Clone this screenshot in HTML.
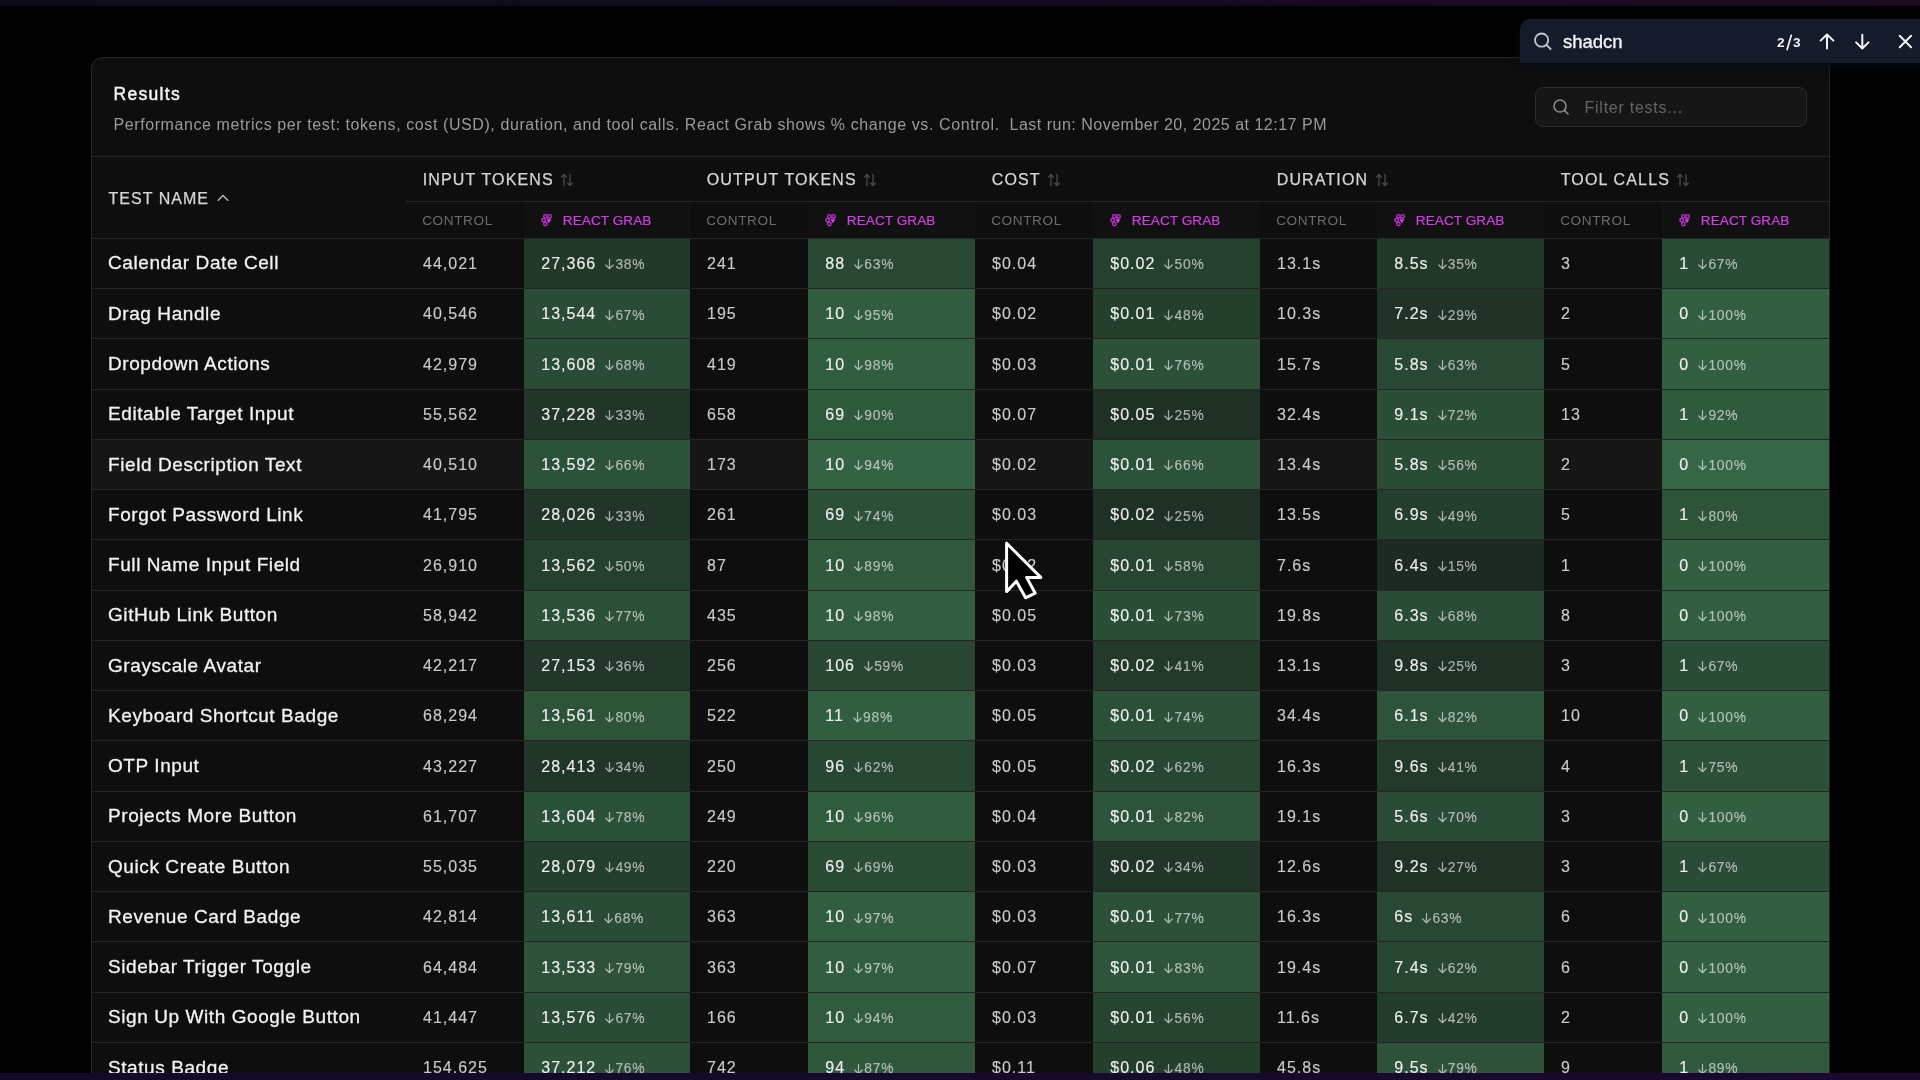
<!DOCTYPE html>
<html><head><meta charset="utf-8"><title>Results</title>
<style>
*{box-sizing:border-box;margin:0;padding:0}
html,body{width:1920px;height:1080px;overflow:hidden;background:#000;font-family:"Liberation Sans",sans-serif}
.page{position:absolute;left:0;top:0;width:1920px;height:1080px;background:#000;will-change:transform;overflow:hidden}
.topstrip{position:absolute;left:0;top:0;width:1920px;height:6px;background:linear-gradient(90deg,#0d0c1e 0%,#110b20 45%,#170a22 75%,#1b0a22 100%)}
.botstrip{position:absolute;left:0;top:1072.5px;width:1920px;height:8px;background:linear-gradient(90deg,#140a28 0%,#170a2c 60%,#1b0830 100%)}
.card{position:absolute;left:91px;top:57px;width:1739px;height:1100px;background:#0e0e0e;border:1px solid #262626;border-radius:11px;overflow:hidden;will-change:transform}
.t{position:absolute;white-space:nowrap;line-height:1}
.title{font-size:17.5px;color:#f4f4f4;letter-spacing:1.3px;-webkit-text-stroke:0.45px #f4f4f4}
.desc{font-size:16px;color:#9a9a9a;letter-spacing:0.59px}
.filter{position:absolute;background:#161616;border:1px solid #2b2b2b;border-radius:8px}
.hline{position:absolute;height:1px;background:#262626}
.gh{font-size:16px;color:#d6d6d6;letter-spacing:1.03px;-webkit-text-stroke:0.25px #d6d6d6}
.sh{font-size:13.6px;color:#6b6b6b;letter-spacing:0.6px}
.shrg{font-size:13.6px;color:#d03fe2;letter-spacing:0.05px;-webkit-text-stroke:0.2px #d03fe2}
.cell{position:absolute}
.nm{font-size:19px;color:#f2f2f2;letter-spacing:0.58px;-webkit-text-stroke:0.3px #f2f2f2}
.num{font-size:16px;color:#c9c9c9;letter-spacing:1.0px;-webkit-text-stroke:0.15px #c9c9c9}
.rnum{font-size:16px;color:rgba(255,255,255,0.9);letter-spacing:1.0px;-webkit-text-stroke:0.15px rgba(255,255,255,0.9)}
.pct{font-size:13.8px;color:rgba(255,255,255,0.6);letter-spacing:0.75px;-webkit-text-stroke:0.1px rgba(255,255,255,0.6)}
svg{position:absolute}
.find{will-change:transform;position:absolute;left:1520px;top:19px;width:420px;height:44px;background:#161b2b;border-radius:10px 0 0 0;box-shadow:0 5px 12px rgba(8,10,22,0.85)}
</style></head><body>
<div class="page">
<div class="topstrip"></div>

<div class="card">
<div class="t title" style="left:21.50px;top:28.39px;">Results</div>
<div class="t desc" style="left:21.50px;top:58.86px;">Performance metrics per test: tokens, cost (USD), duration, and tool calls. React Grab shows % change vs. Control.</div>
<div class="t desc" style="left:917.50px;top:58.86px;letter-spacing:0.5px">Last run: November 20, 2025 at 12:17 PM</div>
<div class="filter" style="left:1443px;top:29px;width:272px;height:40px"></div>
<svg style="left:1460px;top:40px" width="20" height="20" viewBox="0 0 20 20"><circle cx="8" cy="8" r="6" fill="none" stroke="#8a8a8a" stroke-width="1.6"/><path d="M12.4 12.4 L16 16" stroke="#8a8a8a" stroke-width="1.6" stroke-linecap="round"/></svg>
<div class="t desc" style="left:1492.50px;top:42.26px;color:#646464;letter-spacing:0.75px">Filter tests...</div>
<div class="hline" style="left:0;top:98px;width:1739px"></div>
<div class="hline" style="left:314px;top:143px;width:1500px"></div>
<div class="hline" style="left:0;top:180px;width:1739px"></div>
<div class="t gh" style="left:16.50px;top:132.66px;">TEST NAME</div>
<svg style="left:124.7px;top:135.6px" width="12" height="8" viewBox="0 0 12 8"><path d="M1.2 6.2 L6 1.6 L10.8 6.2" fill="none" stroke="#bdbdbd" stroke-width="1.4" stroke-linecap="round" stroke-linejoin="round"/></svg>
<div class="t gh" style="left:330.70px;top:114.16px;letter-spacing:1.15px">INPUT TOKENS</div>
<svg style="left:468.2px;top:114.5px" width="14" height="14" viewBox="0 0 14 14"><g fill="none" stroke="#4a4a4a" stroke-width="1.35" stroke-linecap="round" stroke-linejoin="round"><path d="M4 12.5 V1.5 M1.6 3.9 L4 1.5 L6.4 3.9"/><path d="M10 1.5 V12.5 M7.6 10.1 L10 12.5 L12.4 10.1"/></g></svg>
<div class="cell" style="left:432px;top:144px;width:166px;height:36px;background:#111111"></div>
<div class="t sh" style="left:330.20px;top:155.89px;">CONTROL</div>
<svg style="left:448.6px;top:154.8px" width="12" height="14" viewBox="0 0 12 14"><g fill="none" stroke="#bb2fcc" stroke-width="1.35"><circle cx="4.4" cy="3.3" r="1.75"/><circle cx="8.6" cy="3.3" r="1.75"/><circle cx="2.6" cy="7.2" r="1.75"/><circle cx="4.4" cy="11" r="1.75"/></g><path d="M5.3 6.3 L10.4 6.3 L7.9 10.2 Z" fill="#d940ec"/><path d="M5.8 4.9 L10.2 4.9" stroke="#bb2fcc" stroke-width="1.2"/></svg>
<div class="t shrg" style="left:470.80px;top:155.89px;">REACT GRAB</div>
<div class="t gh" style="left:614.70px;top:114.16px;letter-spacing:1.15px">OUTPUT TOKENS</div>
<svg style="left:771.1px;top:114.5px" width="14" height="14" viewBox="0 0 14 14"><g fill="none" stroke="#4a4a4a" stroke-width="1.35" stroke-linecap="round" stroke-linejoin="round"><path d="M4 12.5 V1.5 M1.6 3.9 L4 1.5 L6.4 3.9"/><path d="M10 1.5 V12.5 M7.6 10.1 L10 12.5 L12.4 10.1"/></g></svg>
<div class="cell" style="left:716px;top:144px;width:167px;height:36px;background:#111111"></div>
<div class="t sh" style="left:614.20px;top:155.89px;">CONTROL</div>
<svg style="left:732.6px;top:154.8px" width="12" height="14" viewBox="0 0 12 14"><g fill="none" stroke="#bb2fcc" stroke-width="1.35"><circle cx="4.4" cy="3.3" r="1.75"/><circle cx="8.6" cy="3.3" r="1.75"/><circle cx="2.6" cy="7.2" r="1.75"/><circle cx="4.4" cy="11" r="1.75"/></g><path d="M5.3 6.3 L10.4 6.3 L7.9 10.2 Z" fill="#d940ec"/><path d="M5.8 4.9 L10.2 4.9" stroke="#bb2fcc" stroke-width="1.2"/></svg>
<div class="t shrg" style="left:754.80px;top:155.89px;">REACT GRAB</div>
<div class="t gh" style="left:899.70px;top:114.16px;letter-spacing:1.15px">COST</div>
<svg style="left:955.0px;top:114.5px" width="14" height="14" viewBox="0 0 14 14"><g fill="none" stroke="#4a4a4a" stroke-width="1.35" stroke-linecap="round" stroke-linejoin="round"><path d="M4 12.5 V1.5 M1.6 3.9 L4 1.5 L6.4 3.9"/><path d="M10 1.5 V12.5 M7.6 10.1 L10 12.5 L12.4 10.1"/></g></svg>
<div class="cell" style="left:1001px;top:144px;width:167px;height:36px;background:#111111"></div>
<div class="t sh" style="left:899.20px;top:155.89px;">CONTROL</div>
<svg style="left:1017.6px;top:154.8px" width="12" height="14" viewBox="0 0 12 14"><g fill="none" stroke="#bb2fcc" stroke-width="1.35"><circle cx="4.4" cy="3.3" r="1.75"/><circle cx="8.6" cy="3.3" r="1.75"/><circle cx="2.6" cy="7.2" r="1.75"/><circle cx="4.4" cy="11" r="1.75"/></g><path d="M5.3 6.3 L10.4 6.3 L7.9 10.2 Z" fill="#d940ec"/><path d="M5.8 4.9 L10.2 4.9" stroke="#bb2fcc" stroke-width="1.2"/></svg>
<div class="t shrg" style="left:1039.80px;top:155.89px;">REACT GRAB</div>
<div class="t gh" style="left:1184.70px;top:114.16px;letter-spacing:1.15px">DURATION</div>
<svg style="left:1282.6px;top:114.5px" width="14" height="14" viewBox="0 0 14 14"><g fill="none" stroke="#4a4a4a" stroke-width="1.35" stroke-linecap="round" stroke-linejoin="round"><path d="M4 12.5 V1.5 M1.6 3.9 L4 1.5 L6.4 3.9"/><path d="M10 1.5 V12.5 M7.6 10.1 L10 12.5 L12.4 10.1"/></g></svg>
<div class="cell" style="left:1285px;top:144px;width:167px;height:36px;background:#111111"></div>
<div class="t sh" style="left:1184.20px;top:155.89px;">CONTROL</div>
<svg style="left:1301.6px;top:154.8px" width="12" height="14" viewBox="0 0 12 14"><g fill="none" stroke="#bb2fcc" stroke-width="1.35"><circle cx="4.4" cy="3.3" r="1.75"/><circle cx="8.6" cy="3.3" r="1.75"/><circle cx="2.6" cy="7.2" r="1.75"/><circle cx="4.4" cy="11" r="1.75"/></g><path d="M5.3 6.3 L10.4 6.3 L7.9 10.2 Z" fill="#d940ec"/><path d="M5.8 4.9 L10.2 4.9" stroke="#bb2fcc" stroke-width="1.2"/></svg>
<div class="t shrg" style="left:1323.80px;top:155.89px;">REACT GRAB</div>
<div class="t gh" style="left:1468.70px;top:114.16px;letter-spacing:1.15px">TOOL CALLS</div>
<svg style="left:1584.3px;top:114.5px" width="14" height="14" viewBox="0 0 14 14"><g fill="none" stroke="#4a4a4a" stroke-width="1.35" stroke-linecap="round" stroke-linejoin="round"><path d="M4 12.5 V1.5 M1.6 3.9 L4 1.5 L6.4 3.9"/><path d="M10 1.5 V12.5 M7.6 10.1 L10 12.5 L12.4 10.1"/></g></svg>
<div class="cell" style="left:1570px;top:144px;width:167px;height:36px;background:#111111"></div>
<div class="t sh" style="left:1468.20px;top:155.89px;">CONTROL</div>
<svg style="left:1586.6px;top:154.8px" width="12" height="14" viewBox="0 0 12 14"><g fill="none" stroke="#bb2fcc" stroke-width="1.35"><circle cx="4.4" cy="3.3" r="1.75"/><circle cx="8.6" cy="3.3" r="1.75"/><circle cx="2.6" cy="7.2" r="1.75"/><circle cx="4.4" cy="11" r="1.75"/></g><path d="M5.3 6.3 L10.4 6.3 L7.9 10.2 Z" fill="#d940ec"/><path d="M5.8 4.9 L10.2 4.9" stroke="#bb2fcc" stroke-width="1.2"/></svg>
<div class="t shrg" style="left:1608.80px;top:155.89px;">REACT GRAB</div>
<div class="cell" style="left:432.00px;top:179.80px;width:166px;height:50.26px;background:rgb(34,57,42)"></div>
<div class="cell" style="left:716.00px;top:179.80px;width:167px;height:50.26px;background:rgb(41,72,51)"></div>
<div class="cell" style="left:1001.00px;top:179.80px;width:167px;height:50.26px;background:rgb(37,64,46)"></div>
<div class="cell" style="left:1285.00px;top:179.80px;width:167px;height:50.26px;background:rgb(33,55,40)"></div>
<div class="cell" style="left:1570.00px;top:179.80px;width:167px;height:50.26px;background:rgb(42,75,53)"></div>
<div class="hline" style="left:0;top:179.80px;width:1739px;background:#252525"></div>
<div class="t nm" style="left:16.00px;top:195.46px;">Calendar Date Cell</div>
<div class="t num" style="left:331.00px;top:198.00px;">44,021</div>
<div class="t rnum" style="left:449.30px;top:198.00px;">27,366</div>
<svg style="left:513.34px;top:201.34px" width="9" height="11" viewBox="0 0 9 11"><path d="M4.5 0.6 V9.6 M0.8 6 L4.5 9.7 L8.2 6" fill="none" stroke="rgba(255,255,255,0.6)" stroke-width="1.25" stroke-linecap="round" stroke-linejoin="round"/></svg>
<div class="t pct" style="left:523.44px;top:200.31px;">38%</div>
<div class="t num" style="left:615.00px;top:198.00px;">241</div>
<div class="t rnum" style="left:733.30px;top:198.00px;">88</div>
<svg style="left:762.20px;top:201.34px" width="9" height="11" viewBox="0 0 9 11"><path d="M4.5 0.6 V9.6 M0.8 6 L4.5 9.7 L8.2 6" fill="none" stroke="rgba(255,255,255,0.6)" stroke-width="1.25" stroke-linecap="round" stroke-linejoin="round"/></svg>
<div class="t pct" style="left:772.30px;top:200.31px;">63%</div>
<div class="t num" style="left:900.00px;top:198.00px;">$0.04</div>
<div class="t rnum" style="left:1018.30px;top:198.00px;">$0.02</div>
<svg style="left:1072.44px;top:201.34px" width="9" height="11" viewBox="0 0 9 11"><path d="M4.5 0.6 V9.6 M0.8 6 L4.5 9.7 L8.2 6" fill="none" stroke="rgba(255,255,255,0.6)" stroke-width="1.25" stroke-linecap="round" stroke-linejoin="round"/></svg>
<div class="t pct" style="left:1082.54px;top:200.31px;">50%</div>
<div class="t num" style="left:1185.00px;top:198.00px;">13.1s</div>
<div class="t rnum" style="left:1302.30px;top:198.00px;">8.5s</div>
<svg style="left:1345.64px;top:201.34px" width="9" height="11" viewBox="0 0 9 11"><path d="M4.5 0.6 V9.6 M0.8 6 L4.5 9.7 L8.2 6" fill="none" stroke="rgba(255,255,255,0.6)" stroke-width="1.25" stroke-linecap="round" stroke-linejoin="round"/></svg>
<div class="t pct" style="left:1355.74px;top:200.31px;">35%</div>
<div class="t num" style="left:1469.00px;top:198.00px;">3</div>
<div class="t rnum" style="left:1587.30px;top:198.00px;">1</div>
<svg style="left:1606.30px;top:201.34px" width="9" height="11" viewBox="0 0 9 11"><path d="M4.5 0.6 V9.6 M0.8 6 L4.5 9.7 L8.2 6" fill="none" stroke="rgba(255,255,255,0.6)" stroke-width="1.25" stroke-linecap="round" stroke-linejoin="round"/></svg>
<div class="t pct" style="left:1616.40px;top:200.31px;">67%</div>
<div class="cell" style="left:432.00px;top:230.06px;width:166px;height:50.26px;background:rgb(42,75,53)"></div>
<div class="cell" style="left:716.00px;top:230.06px;width:167px;height:50.26px;background:rgb(49,92,63)"></div>
<div class="cell" style="left:1001.00px;top:230.06px;width:167px;height:50.26px;background:rgb(37,63,45)"></div>
<div class="cell" style="left:1285.00px;top:230.06px;width:167px;height:50.26px;background:rgb(32,51,38)"></div>
<div class="cell" style="left:1570.00px;top:230.06px;width:167px;height:50.26px;background:rgb(50,95,65)"></div>
<div class="hline" style="left:0;top:230.06px;width:1739px;background:#252525"></div>
<div class="t nm" style="left:16.00px;top:245.72px;">Drag Handle</div>
<div class="t num" style="left:331.00px;top:248.26px;">40,546</div>
<div class="t rnum" style="left:449.30px;top:248.26px;">13,544</div>
<svg style="left:513.34px;top:251.60px" width="9" height="11" viewBox="0 0 9 11"><path d="M4.5 0.6 V9.6 M0.8 6 L4.5 9.7 L8.2 6" fill="none" stroke="rgba(255,255,255,0.6)" stroke-width="1.25" stroke-linecap="round" stroke-linejoin="round"/></svg>
<div class="t pct" style="left:523.44px;top:250.57px;">67%</div>
<div class="t num" style="left:615.00px;top:248.26px;">195</div>
<div class="t rnum" style="left:733.30px;top:248.26px;">10</div>
<svg style="left:762.20px;top:251.60px" width="9" height="11" viewBox="0 0 9 11"><path d="M4.5 0.6 V9.6 M0.8 6 L4.5 9.7 L8.2 6" fill="none" stroke="rgba(255,255,255,0.6)" stroke-width="1.25" stroke-linecap="round" stroke-linejoin="round"/></svg>
<div class="t pct" style="left:772.30px;top:250.57px;">95%</div>
<div class="t num" style="left:900.00px;top:248.26px;">$0.02</div>
<div class="t rnum" style="left:1018.30px;top:248.26px;">$0.01</div>
<svg style="left:1072.44px;top:251.60px" width="9" height="11" viewBox="0 0 9 11"><path d="M4.5 0.6 V9.6 M0.8 6 L4.5 9.7 L8.2 6" fill="none" stroke="rgba(255,255,255,0.6)" stroke-width="1.25" stroke-linecap="round" stroke-linejoin="round"/></svg>
<div class="t pct" style="left:1082.54px;top:250.57px;">48%</div>
<div class="t num" style="left:1185.00px;top:248.26px;">10.3s</div>
<div class="t rnum" style="left:1302.30px;top:248.26px;">7.2s</div>
<svg style="left:1345.64px;top:251.60px" width="9" height="11" viewBox="0 0 9 11"><path d="M4.5 0.6 V9.6 M0.8 6 L4.5 9.7 L8.2 6" fill="none" stroke="rgba(255,255,255,0.6)" stroke-width="1.25" stroke-linecap="round" stroke-linejoin="round"/></svg>
<div class="t pct" style="left:1355.74px;top:250.57px;">29%</div>
<div class="t num" style="left:1469.00px;top:248.26px;">2</div>
<div class="t rnum" style="left:1587.30px;top:248.26px;">0</div>
<svg style="left:1606.30px;top:251.60px" width="9" height="11" viewBox="0 0 9 11"><path d="M4.5 0.6 V9.6 M0.8 6 L4.5 9.7 L8.2 6" fill="none" stroke="rgba(255,255,255,0.6)" stroke-width="1.25" stroke-linecap="round" stroke-linejoin="round"/></svg>
<div class="t pct" style="left:1616.40px;top:250.57px;">100%</div>
<div class="cell" style="left:432.00px;top:280.32px;width:166px;height:50.26px;background:rgb(42,75,53)"></div>
<div class="cell" style="left:716.00px;top:280.32px;width:167px;height:50.26px;background:rgb(49,94,64)"></div>
<div class="cell" style="left:1001.00px;top:280.32px;width:167px;height:50.26px;background:rgb(44,80,56)"></div>
<div class="cell" style="left:1285.00px;top:280.32px;width:167px;height:50.26px;background:rgb(41,72,51)"></div>
<div class="cell" style="left:1570.00px;top:280.32px;width:167px;height:50.26px;background:rgb(50,95,65)"></div>
<div class="hline" style="left:0;top:280.32px;width:1739px;background:#252525"></div>
<div class="t nm" style="left:16.00px;top:295.98px;">Dropdown Actions</div>
<div class="t num" style="left:331.00px;top:298.52px;">42,979</div>
<div class="t rnum" style="left:449.30px;top:298.52px;">13,608</div>
<svg style="left:513.34px;top:301.86px" width="9" height="11" viewBox="0 0 9 11"><path d="M4.5 0.6 V9.6 M0.8 6 L4.5 9.7 L8.2 6" fill="none" stroke="rgba(255,255,255,0.6)" stroke-width="1.25" stroke-linecap="round" stroke-linejoin="round"/></svg>
<div class="t pct" style="left:523.44px;top:300.83px;">68%</div>
<div class="t num" style="left:615.00px;top:298.52px;">419</div>
<div class="t rnum" style="left:733.30px;top:298.52px;">10</div>
<svg style="left:762.20px;top:301.86px" width="9" height="11" viewBox="0 0 9 11"><path d="M4.5 0.6 V9.6 M0.8 6 L4.5 9.7 L8.2 6" fill="none" stroke="rgba(255,255,255,0.6)" stroke-width="1.25" stroke-linecap="round" stroke-linejoin="round"/></svg>
<div class="t pct" style="left:772.30px;top:300.83px;">98%</div>
<div class="t num" style="left:900.00px;top:298.52px;">$0.03</div>
<div class="t rnum" style="left:1018.30px;top:298.52px;">$0.01</div>
<svg style="left:1072.44px;top:301.86px" width="9" height="11" viewBox="0 0 9 11"><path d="M4.5 0.6 V9.6 M0.8 6 L4.5 9.7 L8.2 6" fill="none" stroke="rgba(255,255,255,0.6)" stroke-width="1.25" stroke-linecap="round" stroke-linejoin="round"/></svg>
<div class="t pct" style="left:1082.54px;top:300.83px;">76%</div>
<div class="t num" style="left:1185.00px;top:298.52px;">15.7s</div>
<div class="t rnum" style="left:1302.30px;top:298.52px;">5.8s</div>
<svg style="left:1345.64px;top:301.86px" width="9" height="11" viewBox="0 0 9 11"><path d="M4.5 0.6 V9.6 M0.8 6 L4.5 9.7 L8.2 6" fill="none" stroke="rgba(255,255,255,0.6)" stroke-width="1.25" stroke-linecap="round" stroke-linejoin="round"/></svg>
<div class="t pct" style="left:1355.74px;top:300.83px;">63%</div>
<div class="t num" style="left:1469.00px;top:298.52px;">5</div>
<div class="t rnum" style="left:1587.30px;top:298.52px;">0</div>
<svg style="left:1606.30px;top:301.86px" width="9" height="11" viewBox="0 0 9 11"><path d="M4.5 0.6 V9.6 M0.8 6 L4.5 9.7 L8.2 6" fill="none" stroke="rgba(255,255,255,0.6)" stroke-width="1.25" stroke-linecap="round" stroke-linejoin="round"/></svg>
<div class="t pct" style="left:1616.40px;top:300.83px;">100%</div>
<div class="cell" style="left:432.00px;top:330.58px;width:166px;height:50.26px;background:rgb(33,53,40)"></div>
<div class="cell" style="left:716.00px;top:330.58px;width:167px;height:50.26px;background:rgb(47,89,61)"></div>
<div class="cell" style="left:1001.00px;top:330.58px;width:167px;height:50.26px;background:rgb(31,48,37)"></div>
<div class="cell" style="left:1285.00px;top:330.58px;width:167px;height:50.26px;background:rgb(43,78,54)"></div>
<div class="cell" style="left:1570.00px;top:330.58px;width:167px;height:50.26px;background:rgb(48,90,62)"></div>
<div class="hline" style="left:0;top:330.58px;width:1739px;background:#252525"></div>
<div class="t nm" style="left:16.00px;top:346.24px;">Editable Target Input</div>
<div class="t num" style="left:331.00px;top:348.78px;">55,562</div>
<div class="t rnum" style="left:449.30px;top:348.78px;">37,228</div>
<svg style="left:513.34px;top:352.12px" width="9" height="11" viewBox="0 0 9 11"><path d="M4.5 0.6 V9.6 M0.8 6 L4.5 9.7 L8.2 6" fill="none" stroke="rgba(255,255,255,0.6)" stroke-width="1.25" stroke-linecap="round" stroke-linejoin="round"/></svg>
<div class="t pct" style="left:523.44px;top:351.09px;">33%</div>
<div class="t num" style="left:615.00px;top:348.78px;">658</div>
<div class="t rnum" style="left:733.30px;top:348.78px;">69</div>
<svg style="left:762.20px;top:352.12px" width="9" height="11" viewBox="0 0 9 11"><path d="M4.5 0.6 V9.6 M0.8 6 L4.5 9.7 L8.2 6" fill="none" stroke="rgba(255,255,255,0.6)" stroke-width="1.25" stroke-linecap="round" stroke-linejoin="round"/></svg>
<div class="t pct" style="left:772.30px;top:351.09px;">90%</div>
<div class="t num" style="left:900.00px;top:348.78px;">$0.07</div>
<div class="t rnum" style="left:1018.30px;top:348.78px;">$0.05</div>
<svg style="left:1072.44px;top:352.12px" width="9" height="11" viewBox="0 0 9 11"><path d="M4.5 0.6 V9.6 M0.8 6 L4.5 9.7 L8.2 6" fill="none" stroke="rgba(255,255,255,0.6)" stroke-width="1.25" stroke-linecap="round" stroke-linejoin="round"/></svg>
<div class="t pct" style="left:1082.54px;top:351.09px;">25%</div>
<div class="t num" style="left:1185.00px;top:348.78px;">32.4s</div>
<div class="t rnum" style="left:1302.30px;top:348.78px;">9.1s</div>
<svg style="left:1345.64px;top:352.12px" width="9" height="11" viewBox="0 0 9 11"><path d="M4.5 0.6 V9.6 M0.8 6 L4.5 9.7 L8.2 6" fill="none" stroke="rgba(255,255,255,0.6)" stroke-width="1.25" stroke-linecap="round" stroke-linejoin="round"/></svg>
<div class="t pct" style="left:1355.74px;top:351.09px;">72%</div>
<div class="t num" style="left:1469.00px;top:348.78px;">13</div>
<div class="t rnum" style="left:1587.30px;top:348.78px;">1</div>
<svg style="left:1606.30px;top:352.12px" width="9" height="11" viewBox="0 0 9 11"><path d="M4.5 0.6 V9.6 M0.8 6 L4.5 9.7 L8.2 6" fill="none" stroke="rgba(255,255,255,0.6)" stroke-width="1.25" stroke-linecap="round" stroke-linejoin="round"/></svg>
<div class="t pct" style="left:1616.40px;top:351.09px;">92%</div>
<div class="cell" style="left:0;top:380.84px;width:1738px;height:50.26px;background:#161616"></div>
<div class="cell" style="left:432.00px;top:380.84px;width:166px;height:50.26px;background:rgb(44,82,57)"></div>
<div class="cell" style="left:716.00px;top:380.84px;width:167px;height:50.26px;background:rgb(51,99,68)"></div>
<div class="cell" style="left:1001.00px;top:380.84px;width:167px;height:50.26px;background:rgb(44,82,57)"></div>
<div class="cell" style="left:1285.00px;top:380.84px;width:167px;height:50.26px;background:rgb(42,76,53)"></div>
<div class="cell" style="left:1570.00px;top:380.84px;width:167px;height:50.26px;background:rgb(53,103,70)"></div>
<div class="hline" style="left:0;top:380.84px;width:1739px;background:#252525"></div>
<div class="t nm" style="left:16.00px;top:396.50px;">Field Description Text</div>
<div class="t num" style="left:331.00px;top:399.04px;">40,510</div>
<div class="t rnum" style="left:449.30px;top:399.04px;">13,592</div>
<svg style="left:513.34px;top:402.38px" width="9" height="11" viewBox="0 0 9 11"><path d="M4.5 0.6 V9.6 M0.8 6 L4.5 9.7 L8.2 6" fill="none" stroke="rgba(255,255,255,0.6)" stroke-width="1.25" stroke-linecap="round" stroke-linejoin="round"/></svg>
<div class="t pct" style="left:523.44px;top:401.35px;">66%</div>
<div class="t num" style="left:615.00px;top:399.04px;">173</div>
<div class="t rnum" style="left:733.30px;top:399.04px;">10</div>
<svg style="left:762.20px;top:402.38px" width="9" height="11" viewBox="0 0 9 11"><path d="M4.5 0.6 V9.6 M0.8 6 L4.5 9.7 L8.2 6" fill="none" stroke="rgba(255,255,255,0.6)" stroke-width="1.25" stroke-linecap="round" stroke-linejoin="round"/></svg>
<div class="t pct" style="left:772.30px;top:401.35px;">94%</div>
<div class="t num" style="left:900.00px;top:399.04px;">$0.02</div>
<div class="t rnum" style="left:1018.30px;top:399.04px;">$0.01</div>
<svg style="left:1072.44px;top:402.38px" width="9" height="11" viewBox="0 0 9 11"><path d="M4.5 0.6 V9.6 M0.8 6 L4.5 9.7 L8.2 6" fill="none" stroke="rgba(255,255,255,0.6)" stroke-width="1.25" stroke-linecap="round" stroke-linejoin="round"/></svg>
<div class="t pct" style="left:1082.54px;top:401.35px;">66%</div>
<div class="t num" style="left:1185.00px;top:399.04px;">13.4s</div>
<div class="t rnum" style="left:1302.30px;top:399.04px;">5.8s</div>
<svg style="left:1345.64px;top:402.38px" width="9" height="11" viewBox="0 0 9 11"><path d="M4.5 0.6 V9.6 M0.8 6 L4.5 9.7 L8.2 6" fill="none" stroke="rgba(255,255,255,0.6)" stroke-width="1.25" stroke-linecap="round" stroke-linejoin="round"/></svg>
<div class="t pct" style="left:1355.74px;top:401.35px;">56%</div>
<div class="t num" style="left:1469.00px;top:399.04px;">2</div>
<div class="t rnum" style="left:1587.30px;top:399.04px;">0</div>
<svg style="left:1606.30px;top:402.38px" width="9" height="11" viewBox="0 0 9 11"><path d="M4.5 0.6 V9.6 M0.8 6 L4.5 9.7 L8.2 6" fill="none" stroke="rgba(255,255,255,0.6)" stroke-width="1.25" stroke-linecap="round" stroke-linejoin="round"/></svg>
<div class="t pct" style="left:1616.40px;top:401.35px;">100%</div>
<div class="cell" style="left:432.00px;top:431.10px;width:166px;height:50.26px;background:rgb(33,53,40)"></div>
<div class="cell" style="left:716.00px;top:431.10px;width:167px;height:50.26px;background:rgb(43,79,55)"></div>
<div class="cell" style="left:1001.00px;top:431.10px;width:167px;height:50.26px;background:rgb(31,48,37)"></div>
<div class="cell" style="left:1285.00px;top:431.10px;width:167px;height:50.26px;background:rgb(37,63,46)"></div>
<div class="cell" style="left:1570.00px;top:431.10px;width:167px;height:50.26px;background:rgb(45,83,57)"></div>
<div class="hline" style="left:0;top:431.10px;width:1739px;background:#252525"></div>
<div class="t nm" style="left:16.00px;top:446.76px;">Forgot Password Link</div>
<div class="t num" style="left:331.00px;top:449.30px;">41,795</div>
<div class="t rnum" style="left:449.30px;top:449.30px;">28,026</div>
<svg style="left:513.34px;top:452.64px" width="9" height="11" viewBox="0 0 9 11"><path d="M4.5 0.6 V9.6 M0.8 6 L4.5 9.7 L8.2 6" fill="none" stroke="rgba(255,255,255,0.6)" stroke-width="1.25" stroke-linecap="round" stroke-linejoin="round"/></svg>
<div class="t pct" style="left:523.44px;top:451.61px;">33%</div>
<div class="t num" style="left:615.00px;top:449.30px;">261</div>
<div class="t rnum" style="left:733.30px;top:449.30px;">69</div>
<svg style="left:762.20px;top:452.64px" width="9" height="11" viewBox="0 0 9 11"><path d="M4.5 0.6 V9.6 M0.8 6 L4.5 9.7 L8.2 6" fill="none" stroke="rgba(255,255,255,0.6)" stroke-width="1.25" stroke-linecap="round" stroke-linejoin="round"/></svg>
<div class="t pct" style="left:772.30px;top:451.61px;">74%</div>
<div class="t num" style="left:900.00px;top:449.30px;">$0.03</div>
<div class="t rnum" style="left:1018.30px;top:449.30px;">$0.02</div>
<svg style="left:1072.44px;top:452.64px" width="9" height="11" viewBox="0 0 9 11"><path d="M4.5 0.6 V9.6 M0.8 6 L4.5 9.7 L8.2 6" fill="none" stroke="rgba(255,255,255,0.6)" stroke-width="1.25" stroke-linecap="round" stroke-linejoin="round"/></svg>
<div class="t pct" style="left:1082.54px;top:451.61px;">25%</div>
<div class="t num" style="left:1185.00px;top:449.30px;">13.5s</div>
<div class="t rnum" style="left:1302.30px;top:449.30px;">6.9s</div>
<svg style="left:1345.64px;top:452.64px" width="9" height="11" viewBox="0 0 9 11"><path d="M4.5 0.6 V9.6 M0.8 6 L4.5 9.7 L8.2 6" fill="none" stroke="rgba(255,255,255,0.6)" stroke-width="1.25" stroke-linecap="round" stroke-linejoin="round"/></svg>
<div class="t pct" style="left:1355.74px;top:451.61px;">49%</div>
<div class="t num" style="left:1469.00px;top:449.30px;">5</div>
<div class="t rnum" style="left:1587.30px;top:449.30px;">1</div>
<svg style="left:1606.30px;top:452.64px" width="9" height="11" viewBox="0 0 9 11"><path d="M4.5 0.6 V9.6 M0.8 6 L4.5 9.7 L8.2 6" fill="none" stroke="rgba(255,255,255,0.6)" stroke-width="1.25" stroke-linecap="round" stroke-linejoin="round"/></svg>
<div class="t pct" style="left:1616.40px;top:451.61px;">80%</div>
<div class="cell" style="left:432.00px;top:481.36px;width:166px;height:50.26px;background:rgb(37,64,46)"></div>
<div class="cell" style="left:716.00px;top:481.36px;width:167px;height:50.26px;background:rgb(47,88,61)"></div>
<div class="cell" style="left:1001.00px;top:481.36px;width:167px;height:50.26px;background:rgb(39,69,49)"></div>
<div class="cell" style="left:1285.00px;top:481.36px;width:167px;height:50.26px;background:rgb(28,42,33)"></div>
<div class="cell" style="left:1570.00px;top:481.36px;width:167px;height:50.26px;background:rgb(50,95,65)"></div>
<div class="hline" style="left:0;top:481.36px;width:1739px;background:#252525"></div>
<div class="t nm" style="left:16.00px;top:497.02px;">Full Name Input Field</div>
<div class="t num" style="left:331.00px;top:499.56px;">26,910</div>
<div class="t rnum" style="left:449.30px;top:499.56px;">13,562</div>
<svg style="left:513.34px;top:502.90px" width="9" height="11" viewBox="0 0 9 11"><path d="M4.5 0.6 V9.6 M0.8 6 L4.5 9.7 L8.2 6" fill="none" stroke="rgba(255,255,255,0.6)" stroke-width="1.25" stroke-linecap="round" stroke-linejoin="round"/></svg>
<div class="t pct" style="left:523.44px;top:501.87px;">50%</div>
<div class="t num" style="left:615.00px;top:499.56px;">87</div>
<div class="t rnum" style="left:733.30px;top:499.56px;">10</div>
<svg style="left:762.20px;top:502.90px" width="9" height="11" viewBox="0 0 9 11"><path d="M4.5 0.6 V9.6 M0.8 6 L4.5 9.7 L8.2 6" fill="none" stroke="rgba(255,255,255,0.6)" stroke-width="1.25" stroke-linecap="round" stroke-linejoin="round"/></svg>
<div class="t pct" style="left:772.30px;top:501.87px;">89%</div>
<div class="t num" style="left:900.00px;top:499.56px;">$0.02</div>
<div class="t rnum" style="left:1018.30px;top:499.56px;">$0.01</div>
<svg style="left:1072.44px;top:502.90px" width="9" height="11" viewBox="0 0 9 11"><path d="M4.5 0.6 V9.6 M0.8 6 L4.5 9.7 L8.2 6" fill="none" stroke="rgba(255,255,255,0.6)" stroke-width="1.25" stroke-linecap="round" stroke-linejoin="round"/></svg>
<div class="t pct" style="left:1082.54px;top:501.87px;">58%</div>
<div class="t num" style="left:1185.00px;top:499.56px;">7.6s</div>
<div class="t rnum" style="left:1302.30px;top:499.56px;">6.4s</div>
<svg style="left:1345.64px;top:502.90px" width="9" height="11" viewBox="0 0 9 11"><path d="M4.5 0.6 V9.6 M0.8 6 L4.5 9.7 L8.2 6" fill="none" stroke="rgba(255,255,255,0.6)" stroke-width="1.25" stroke-linecap="round" stroke-linejoin="round"/></svg>
<div class="t pct" style="left:1355.74px;top:501.87px;">15%</div>
<div class="t num" style="left:1469.00px;top:499.56px;">1</div>
<div class="t rnum" style="left:1587.30px;top:499.56px;">0</div>
<svg style="left:1606.30px;top:502.90px" width="9" height="11" viewBox="0 0 9 11"><path d="M4.5 0.6 V9.6 M0.8 6 L4.5 9.7 L8.2 6" fill="none" stroke="rgba(255,255,255,0.6)" stroke-width="1.25" stroke-linecap="round" stroke-linejoin="round"/></svg>
<div class="t pct" style="left:1616.40px;top:501.87px;">100%</div>
<div class="cell" style="left:432.00px;top:531.62px;width:166px;height:50.26px;background:rgb(44,81,56)"></div>
<div class="cell" style="left:716.00px;top:531.62px;width:167px;height:50.26px;background:rgb(49,94,64)"></div>
<div class="cell" style="left:1001.00px;top:531.62px;width:167px;height:50.26px;background:rgb(43,78,55)"></div>
<div class="cell" style="left:1285.00px;top:531.62px;width:167px;height:50.26px;background:rgb(42,75,53)"></div>
<div class="cell" style="left:1570.00px;top:531.62px;width:167px;height:50.26px;background:rgb(50,95,65)"></div>
<div class="hline" style="left:0;top:531.62px;width:1739px;background:#252525"></div>
<div class="t nm" style="left:16.00px;top:547.28px;">GitHub Link Button</div>
<div class="t num" style="left:331.00px;top:549.82px;">58,942</div>
<div class="t rnum" style="left:449.30px;top:549.82px;">13,536</div>
<svg style="left:513.34px;top:553.16px" width="9" height="11" viewBox="0 0 9 11"><path d="M4.5 0.6 V9.6 M0.8 6 L4.5 9.7 L8.2 6" fill="none" stroke="rgba(255,255,255,0.6)" stroke-width="1.25" stroke-linecap="round" stroke-linejoin="round"/></svg>
<div class="t pct" style="left:523.44px;top:552.13px;">77%</div>
<div class="t num" style="left:615.00px;top:549.82px;">435</div>
<div class="t rnum" style="left:733.30px;top:549.82px;">10</div>
<svg style="left:762.20px;top:553.16px" width="9" height="11" viewBox="0 0 9 11"><path d="M4.5 0.6 V9.6 M0.8 6 L4.5 9.7 L8.2 6" fill="none" stroke="rgba(255,255,255,0.6)" stroke-width="1.25" stroke-linecap="round" stroke-linejoin="round"/></svg>
<div class="t pct" style="left:772.30px;top:552.13px;">98%</div>
<div class="t num" style="left:900.00px;top:549.82px;">$0.05</div>
<div class="t rnum" style="left:1018.30px;top:549.82px;">$0.01</div>
<svg style="left:1072.44px;top:553.16px" width="9" height="11" viewBox="0 0 9 11"><path d="M4.5 0.6 V9.6 M0.8 6 L4.5 9.7 L8.2 6" fill="none" stroke="rgba(255,255,255,0.6)" stroke-width="1.25" stroke-linecap="round" stroke-linejoin="round"/></svg>
<div class="t pct" style="left:1082.54px;top:552.13px;">73%</div>
<div class="t num" style="left:1185.00px;top:549.82px;">19.8s</div>
<div class="t rnum" style="left:1302.30px;top:549.82px;">6.3s</div>
<svg style="left:1345.64px;top:553.16px" width="9" height="11" viewBox="0 0 9 11"><path d="M4.5 0.6 V9.6 M0.8 6 L4.5 9.7 L8.2 6" fill="none" stroke="rgba(255,255,255,0.6)" stroke-width="1.25" stroke-linecap="round" stroke-linejoin="round"/></svg>
<div class="t pct" style="left:1355.74px;top:552.13px;">68%</div>
<div class="t num" style="left:1469.00px;top:549.82px;">8</div>
<div class="t rnum" style="left:1587.30px;top:549.82px;">0</div>
<svg style="left:1606.30px;top:553.16px" width="9" height="11" viewBox="0 0 9 11"><path d="M4.5 0.6 V9.6 M0.8 6 L4.5 9.7 L8.2 6" fill="none" stroke="rgba(255,255,255,0.6)" stroke-width="1.25" stroke-linecap="round" stroke-linejoin="round"/></svg>
<div class="t pct" style="left:1616.40px;top:552.13px;">100%</div>
<div class="cell" style="left:432.00px;top:581.88px;width:166px;height:50.26px;background:rgb(34,55,41)"></div>
<div class="cell" style="left:716.00px;top:581.88px;width:167px;height:50.26px;background:rgb(40,70,50)"></div>
<div class="cell" style="left:1001.00px;top:581.88px;width:167px;height:50.26px;background:rgb(35,58,43)"></div>
<div class="cell" style="left:1285.00px;top:581.88px;width:167px;height:50.26px;background:rgb(31,48,37)"></div>
<div class="cell" style="left:1570.00px;top:581.88px;width:167px;height:50.26px;background:rgb(42,75,53)"></div>
<div class="hline" style="left:0;top:581.88px;width:1739px;background:#252525"></div>
<div class="t nm" style="left:16.00px;top:597.54px;">Grayscale Avatar</div>
<div class="t num" style="left:331.00px;top:600.08px;">42,217</div>
<div class="t rnum" style="left:449.30px;top:600.08px;">27,153</div>
<svg style="left:513.34px;top:603.42px" width="9" height="11" viewBox="0 0 9 11"><path d="M4.5 0.6 V9.6 M0.8 6 L4.5 9.7 L8.2 6" fill="none" stroke="rgba(255,255,255,0.6)" stroke-width="1.25" stroke-linecap="round" stroke-linejoin="round"/></svg>
<div class="t pct" style="left:523.44px;top:602.39px;">36%</div>
<div class="t num" style="left:615.00px;top:600.08px;">256</div>
<div class="t rnum" style="left:733.30px;top:600.08px;">106</div>
<svg style="left:772.10px;top:603.42px" width="9" height="11" viewBox="0 0 9 11"><path d="M4.5 0.6 V9.6 M0.8 6 L4.5 9.7 L8.2 6" fill="none" stroke="rgba(255,255,255,0.6)" stroke-width="1.25" stroke-linecap="round" stroke-linejoin="round"/></svg>
<div class="t pct" style="left:782.20px;top:602.39px;">59%</div>
<div class="t num" style="left:900.00px;top:600.08px;">$0.03</div>
<div class="t rnum" style="left:1018.30px;top:600.08px;">$0.02</div>
<svg style="left:1072.44px;top:603.42px" width="9" height="11" viewBox="0 0 9 11"><path d="M4.5 0.6 V9.6 M0.8 6 L4.5 9.7 L8.2 6" fill="none" stroke="rgba(255,255,255,0.6)" stroke-width="1.25" stroke-linecap="round" stroke-linejoin="round"/></svg>
<div class="t pct" style="left:1082.54px;top:602.39px;">41%</div>
<div class="t num" style="left:1185.00px;top:600.08px;">13.1s</div>
<div class="t rnum" style="left:1302.30px;top:600.08px;">9.8s</div>
<svg style="left:1345.64px;top:603.42px" width="9" height="11" viewBox="0 0 9 11"><path d="M4.5 0.6 V9.6 M0.8 6 L4.5 9.7 L8.2 6" fill="none" stroke="rgba(255,255,255,0.6)" stroke-width="1.25" stroke-linecap="round" stroke-linejoin="round"/></svg>
<div class="t pct" style="left:1355.74px;top:602.39px;">25%</div>
<div class="t num" style="left:1469.00px;top:600.08px;">3</div>
<div class="t rnum" style="left:1587.30px;top:600.08px;">1</div>
<svg style="left:1606.30px;top:603.42px" width="9" height="11" viewBox="0 0 9 11"><path d="M4.5 0.6 V9.6 M0.8 6 L4.5 9.7 L8.2 6" fill="none" stroke="rgba(255,255,255,0.6)" stroke-width="1.25" stroke-linecap="round" stroke-linejoin="round"/></svg>
<div class="t pct" style="left:1616.40px;top:602.39px;">67%</div>
<div class="cell" style="left:432.00px;top:632.14px;width:166px;height:50.26px;background:rgb(45,83,57)"></div>
<div class="cell" style="left:716.00px;top:632.14px;width:167px;height:50.26px;background:rgb(49,94,64)"></div>
<div class="cell" style="left:1001.00px;top:632.14px;width:167px;height:50.26px;background:rgb(43,79,55)"></div>
<div class="cell" style="left:1285.00px;top:632.14px;width:167px;height:50.26px;background:rgb(45,84,58)"></div>
<div class="cell" style="left:1570.00px;top:632.14px;width:167px;height:50.26px;background:rgb(50,95,65)"></div>
<div class="hline" style="left:0;top:632.14px;width:1739px;background:#252525"></div>
<div class="t nm" style="left:16.00px;top:647.80px;">Keyboard Shortcut Badge</div>
<div class="t num" style="left:331.00px;top:650.34px;">68,294</div>
<div class="t rnum" style="left:449.30px;top:650.34px;">13,561</div>
<svg style="left:513.34px;top:653.68px" width="9" height="11" viewBox="0 0 9 11"><path d="M4.5 0.6 V9.6 M0.8 6 L4.5 9.7 L8.2 6" fill="none" stroke="rgba(255,255,255,0.6)" stroke-width="1.25" stroke-linecap="round" stroke-linejoin="round"/></svg>
<div class="t pct" style="left:523.44px;top:652.65px;">80%</div>
<div class="t num" style="left:615.00px;top:650.34px;">522</div>
<div class="t rnum" style="left:733.30px;top:650.34px;">11</div>
<svg style="left:761.01px;top:653.68px" width="9" height="11" viewBox="0 0 9 11"><path d="M4.5 0.6 V9.6 M0.8 6 L4.5 9.7 L8.2 6" fill="none" stroke="rgba(255,255,255,0.6)" stroke-width="1.25" stroke-linecap="round" stroke-linejoin="round"/></svg>
<div class="t pct" style="left:771.11px;top:652.65px;">98%</div>
<div class="t num" style="left:900.00px;top:650.34px;">$0.05</div>
<div class="t rnum" style="left:1018.30px;top:650.34px;">$0.01</div>
<svg style="left:1072.44px;top:653.68px" width="9" height="11" viewBox="0 0 9 11"><path d="M4.5 0.6 V9.6 M0.8 6 L4.5 9.7 L8.2 6" fill="none" stroke="rgba(255,255,255,0.6)" stroke-width="1.25" stroke-linecap="round" stroke-linejoin="round"/></svg>
<div class="t pct" style="left:1082.54px;top:652.65px;">74%</div>
<div class="t num" style="left:1185.00px;top:650.34px;">34.4s</div>
<div class="t rnum" style="left:1302.30px;top:650.34px;">6.1s</div>
<svg style="left:1345.64px;top:653.68px" width="9" height="11" viewBox="0 0 9 11"><path d="M4.5 0.6 V9.6 M0.8 6 L4.5 9.7 L8.2 6" fill="none" stroke="rgba(255,255,255,0.6)" stroke-width="1.25" stroke-linecap="round" stroke-linejoin="round"/></svg>
<div class="t pct" style="left:1355.74px;top:652.65px;">82%</div>
<div class="t num" style="left:1469.00px;top:650.34px;">10</div>
<div class="t rnum" style="left:1587.30px;top:650.34px;">0</div>
<svg style="left:1606.30px;top:653.68px" width="9" height="11" viewBox="0 0 9 11"><path d="M4.5 0.6 V9.6 M0.8 6 L4.5 9.7 L8.2 6" fill="none" stroke="rgba(255,255,255,0.6)" stroke-width="1.25" stroke-linecap="round" stroke-linejoin="round"/></svg>
<div class="t pct" style="left:1616.40px;top:652.65px;">100%</div>
<div class="cell" style="left:432.00px;top:682.40px;width:166px;height:50.26px;background:rgb(33,54,40)"></div>
<div class="cell" style="left:716.00px;top:682.40px;width:167px;height:50.26px;background:rgb(40,71,51)"></div>
<div class="cell" style="left:1001.00px;top:682.40px;width:167px;height:50.26px;background:rgb(40,71,51)"></div>
<div class="cell" style="left:1285.00px;top:682.40px;width:167px;height:50.26px;background:rgb(35,58,43)"></div>
<div class="cell" style="left:1570.00px;top:682.40px;width:167px;height:50.26px;background:rgb(44,80,56)"></div>
<div class="hline" style="left:0;top:682.40px;width:1739px;background:#252525"></div>
<div class="t nm" style="left:16.00px;top:698.06px;">OTP Input</div>
<div class="t num" style="left:331.00px;top:700.60px;">43,227</div>
<div class="t rnum" style="left:449.30px;top:700.60px;">28,413</div>
<svg style="left:513.34px;top:703.94px" width="9" height="11" viewBox="0 0 9 11"><path d="M4.5 0.6 V9.6 M0.8 6 L4.5 9.7 L8.2 6" fill="none" stroke="rgba(255,255,255,0.6)" stroke-width="1.25" stroke-linecap="round" stroke-linejoin="round"/></svg>
<div class="t pct" style="left:523.44px;top:702.91px;">34%</div>
<div class="t num" style="left:615.00px;top:700.60px;">250</div>
<div class="t rnum" style="left:733.30px;top:700.60px;">96</div>
<svg style="left:762.20px;top:703.94px" width="9" height="11" viewBox="0 0 9 11"><path d="M4.5 0.6 V9.6 M0.8 6 L4.5 9.7 L8.2 6" fill="none" stroke="rgba(255,255,255,0.6)" stroke-width="1.25" stroke-linecap="round" stroke-linejoin="round"/></svg>
<div class="t pct" style="left:772.30px;top:702.91px;">62%</div>
<div class="t num" style="left:900.00px;top:700.60px;">$0.05</div>
<div class="t rnum" style="left:1018.30px;top:700.60px;">$0.02</div>
<svg style="left:1072.44px;top:703.94px" width="9" height="11" viewBox="0 0 9 11"><path d="M4.5 0.6 V9.6 M0.8 6 L4.5 9.7 L8.2 6" fill="none" stroke="rgba(255,255,255,0.6)" stroke-width="1.25" stroke-linecap="round" stroke-linejoin="round"/></svg>
<div class="t pct" style="left:1082.54px;top:702.91px;">62%</div>
<div class="t num" style="left:1185.00px;top:700.60px;">16.3s</div>
<div class="t rnum" style="left:1302.30px;top:700.60px;">9.6s</div>
<svg style="left:1345.64px;top:703.94px" width="9" height="11" viewBox="0 0 9 11"><path d="M4.5 0.6 V9.6 M0.8 6 L4.5 9.7 L8.2 6" fill="none" stroke="rgba(255,255,255,0.6)" stroke-width="1.25" stroke-linecap="round" stroke-linejoin="round"/></svg>
<div class="t pct" style="left:1355.74px;top:702.91px;">41%</div>
<div class="t num" style="left:1469.00px;top:700.60px;">4</div>
<div class="t rnum" style="left:1587.30px;top:700.60px;">1</div>
<svg style="left:1606.30px;top:703.94px" width="9" height="11" viewBox="0 0 9 11"><path d="M4.5 0.6 V9.6 M0.8 6 L4.5 9.7 L8.2 6" fill="none" stroke="rgba(255,255,255,0.6)" stroke-width="1.25" stroke-linecap="round" stroke-linejoin="round"/></svg>
<div class="t pct" style="left:1616.40px;top:702.91px;">75%</div>
<div class="cell" style="left:432.00px;top:732.66px;width:166px;height:50.26px;background:rgb(44,81,57)"></div>
<div class="cell" style="left:716.00px;top:732.66px;width:167px;height:50.26px;background:rgb(49,93,63)"></div>
<div class="cell" style="left:1001.00px;top:732.66px;width:167px;height:50.26px;background:rgb(45,84,58)"></div>
<div class="cell" style="left:1285.00px;top:732.66px;width:167px;height:50.26px;background:rgb(42,76,54)"></div>
<div class="cell" style="left:1570.00px;top:732.66px;width:167px;height:50.26px;background:rgb(50,95,65)"></div>
<div class="hline" style="left:0;top:732.66px;width:1739px;background:#252525"></div>
<div class="t nm" style="left:16.00px;top:748.32px;">Projects More Button</div>
<div class="t num" style="left:331.00px;top:750.86px;">61,707</div>
<div class="t rnum" style="left:449.30px;top:750.86px;">13,604</div>
<svg style="left:513.34px;top:754.20px" width="9" height="11" viewBox="0 0 9 11"><path d="M4.5 0.6 V9.6 M0.8 6 L4.5 9.7 L8.2 6" fill="none" stroke="rgba(255,255,255,0.6)" stroke-width="1.25" stroke-linecap="round" stroke-linejoin="round"/></svg>
<div class="t pct" style="left:523.44px;top:753.17px;">78%</div>
<div class="t num" style="left:615.00px;top:750.86px;">249</div>
<div class="t rnum" style="left:733.30px;top:750.86px;">10</div>
<svg style="left:762.20px;top:754.20px" width="9" height="11" viewBox="0 0 9 11"><path d="M4.5 0.6 V9.6 M0.8 6 L4.5 9.7 L8.2 6" fill="none" stroke="rgba(255,255,255,0.6)" stroke-width="1.25" stroke-linecap="round" stroke-linejoin="round"/></svg>
<div class="t pct" style="left:772.30px;top:753.17px;">96%</div>
<div class="t num" style="left:900.00px;top:750.86px;">$0.04</div>
<div class="t rnum" style="left:1018.30px;top:750.86px;">$0.01</div>
<svg style="left:1072.44px;top:754.20px" width="9" height="11" viewBox="0 0 9 11"><path d="M4.5 0.6 V9.6 M0.8 6 L4.5 9.7 L8.2 6" fill="none" stroke="rgba(255,255,255,0.6)" stroke-width="1.25" stroke-linecap="round" stroke-linejoin="round"/></svg>
<div class="t pct" style="left:1082.54px;top:753.17px;">82%</div>
<div class="t num" style="left:1185.00px;top:750.86px;">19.1s</div>
<div class="t rnum" style="left:1302.30px;top:750.86px;">5.6s</div>
<svg style="left:1345.64px;top:754.20px" width="9" height="11" viewBox="0 0 9 11"><path d="M4.5 0.6 V9.6 M0.8 6 L4.5 9.7 L8.2 6" fill="none" stroke="rgba(255,255,255,0.6)" stroke-width="1.25" stroke-linecap="round" stroke-linejoin="round"/></svg>
<div class="t pct" style="left:1355.74px;top:753.17px;">70%</div>
<div class="t num" style="left:1469.00px;top:750.86px;">3</div>
<div class="t rnum" style="left:1587.30px;top:750.86px;">0</div>
<svg style="left:1606.30px;top:754.20px" width="9" height="11" viewBox="0 0 9 11"><path d="M4.5 0.6 V9.6 M0.8 6 L4.5 9.7 L8.2 6" fill="none" stroke="rgba(255,255,255,0.6)" stroke-width="1.25" stroke-linecap="round" stroke-linejoin="round"/></svg>
<div class="t pct" style="left:1616.40px;top:753.17px;">100%</div>
<div class="cell" style="left:432.00px;top:782.92px;width:166px;height:50.26px;background:rgb(37,63,46)"></div>
<div class="cell" style="left:716.00px;top:782.92px;width:167px;height:50.26px;background:rgb(42,76,53)"></div>
<div class="cell" style="left:1001.00px;top:782.92px;width:167px;height:50.26px;background:rgb(33,54,40)"></div>
<div class="cell" style="left:1285.00px;top:782.92px;width:167px;height:50.26px;background:rgb(31,50,37)"></div>
<div class="cell" style="left:1570.00px;top:782.92px;width:167px;height:50.26px;background:rgb(42,75,53)"></div>
<div class="hline" style="left:0;top:782.92px;width:1739px;background:#252525"></div>
<div class="t nm" style="left:16.00px;top:798.58px;">Quick Create Button</div>
<div class="t num" style="left:331.00px;top:801.12px;">55,035</div>
<div class="t rnum" style="left:449.30px;top:801.12px;">28,079</div>
<svg style="left:513.34px;top:804.46px" width="9" height="11" viewBox="0 0 9 11"><path d="M4.5 0.6 V9.6 M0.8 6 L4.5 9.7 L8.2 6" fill="none" stroke="rgba(255,255,255,0.6)" stroke-width="1.25" stroke-linecap="round" stroke-linejoin="round"/></svg>
<div class="t pct" style="left:523.44px;top:803.43px;">49%</div>
<div class="t num" style="left:615.00px;top:801.12px;">220</div>
<div class="t rnum" style="left:733.30px;top:801.12px;">69</div>
<svg style="left:762.20px;top:804.46px" width="9" height="11" viewBox="0 0 9 11"><path d="M4.5 0.6 V9.6 M0.8 6 L4.5 9.7 L8.2 6" fill="none" stroke="rgba(255,255,255,0.6)" stroke-width="1.25" stroke-linecap="round" stroke-linejoin="round"/></svg>
<div class="t pct" style="left:772.30px;top:803.43px;">69%</div>
<div class="t num" style="left:900.00px;top:801.12px;">$0.03</div>
<div class="t rnum" style="left:1018.30px;top:801.12px;">$0.02</div>
<svg style="left:1072.44px;top:804.46px" width="9" height="11" viewBox="0 0 9 11"><path d="M4.5 0.6 V9.6 M0.8 6 L4.5 9.7 L8.2 6" fill="none" stroke="rgba(255,255,255,0.6)" stroke-width="1.25" stroke-linecap="round" stroke-linejoin="round"/></svg>
<div class="t pct" style="left:1082.54px;top:803.43px;">34%</div>
<div class="t num" style="left:1185.00px;top:801.12px;">12.6s</div>
<div class="t rnum" style="left:1302.30px;top:801.12px;">9.2s</div>
<svg style="left:1345.64px;top:804.46px" width="9" height="11" viewBox="0 0 9 11"><path d="M4.5 0.6 V9.6 M0.8 6 L4.5 9.7 L8.2 6" fill="none" stroke="rgba(255,255,255,0.6)" stroke-width="1.25" stroke-linecap="round" stroke-linejoin="round"/></svg>
<div class="t pct" style="left:1355.74px;top:803.43px;">27%</div>
<div class="t num" style="left:1469.00px;top:801.12px;">3</div>
<div class="t rnum" style="left:1587.30px;top:801.12px;">1</div>
<svg style="left:1606.30px;top:804.46px" width="9" height="11" viewBox="0 0 9 11"><path d="M4.5 0.6 V9.6 M0.8 6 L4.5 9.7 L8.2 6" fill="none" stroke="rgba(255,255,255,0.6)" stroke-width="1.25" stroke-linecap="round" stroke-linejoin="round"/></svg>
<div class="t pct" style="left:1616.40px;top:803.43px;">67%</div>
<div class="cell" style="left:432.00px;top:833.18px;width:166px;height:50.26px;background:rgb(42,75,53)"></div>
<div class="cell" style="left:716.00px;top:833.18px;width:167px;height:50.26px;background:rgb(49,93,64)"></div>
<div class="cell" style="left:1001.00px;top:833.18px;width:167px;height:50.26px;background:rgb(44,81,56)"></div>
<div class="cell" style="left:1285.00px;top:833.18px;width:167px;height:50.26px;background:rgb(41,72,51)"></div>
<div class="cell" style="left:1570.00px;top:833.18px;width:167px;height:50.26px;background:rgb(50,95,65)"></div>
<div class="hline" style="left:0;top:833.18px;width:1739px;background:#252525"></div>
<div class="t nm" style="left:16.00px;top:848.84px;">Revenue Card Badge</div>
<div class="t num" style="left:331.00px;top:851.38px;">42,814</div>
<div class="t rnum" style="left:449.30px;top:851.38px;">13,611</div>
<svg style="left:512.15px;top:854.72px" width="9" height="11" viewBox="0 0 9 11"><path d="M4.5 0.6 V9.6 M0.8 6 L4.5 9.7 L8.2 6" fill="none" stroke="rgba(255,255,255,0.6)" stroke-width="1.25" stroke-linecap="round" stroke-linejoin="round"/></svg>
<div class="t pct" style="left:522.25px;top:853.69px;">68%</div>
<div class="t num" style="left:615.00px;top:851.38px;">363</div>
<div class="t rnum" style="left:733.30px;top:851.38px;">10</div>
<svg style="left:762.20px;top:854.72px" width="9" height="11" viewBox="0 0 9 11"><path d="M4.5 0.6 V9.6 M0.8 6 L4.5 9.7 L8.2 6" fill="none" stroke="rgba(255,255,255,0.6)" stroke-width="1.25" stroke-linecap="round" stroke-linejoin="round"/></svg>
<div class="t pct" style="left:772.30px;top:853.69px;">97%</div>
<div class="t num" style="left:900.00px;top:851.38px;">$0.03</div>
<div class="t rnum" style="left:1018.30px;top:851.38px;">$0.01</div>
<svg style="left:1072.44px;top:854.72px" width="9" height="11" viewBox="0 0 9 11"><path d="M4.5 0.6 V9.6 M0.8 6 L4.5 9.7 L8.2 6" fill="none" stroke="rgba(255,255,255,0.6)" stroke-width="1.25" stroke-linecap="round" stroke-linejoin="round"/></svg>
<div class="t pct" style="left:1082.54px;top:853.69px;">77%</div>
<div class="t num" style="left:1185.00px;top:851.38px;">16.3s</div>
<div class="t rnum" style="left:1302.30px;top:851.38px;">6s</div>
<svg style="left:1330.30px;top:854.72px" width="9" height="11" viewBox="0 0 9 11"><path d="M4.5 0.6 V9.6 M0.8 6 L4.5 9.7 L8.2 6" fill="none" stroke="rgba(255,255,255,0.6)" stroke-width="1.25" stroke-linecap="round" stroke-linejoin="round"/></svg>
<div class="t pct" style="left:1340.40px;top:853.69px;">63%</div>
<div class="t num" style="left:1469.00px;top:851.38px;">6</div>
<div class="t rnum" style="left:1587.30px;top:851.38px;">0</div>
<svg style="left:1606.30px;top:854.72px" width="9" height="11" viewBox="0 0 9 11"><path d="M4.5 0.6 V9.6 M0.8 6 L4.5 9.7 L8.2 6" fill="none" stroke="rgba(255,255,255,0.6)" stroke-width="1.25" stroke-linecap="round" stroke-linejoin="round"/></svg>
<div class="t pct" style="left:1616.40px;top:853.69px;">100%</div>
<div class="cell" style="left:432.00px;top:883.44px;width:166px;height:50.26px;background:rgb(45,82,57)"></div>
<div class="cell" style="left:716.00px;top:883.44px;width:167px;height:50.26px;background:rgb(49,93,64)"></div>
<div class="cell" style="left:1001.00px;top:883.44px;width:167px;height:50.26px;background:rgb(46,84,59)"></div>
<div class="cell" style="left:1285.00px;top:883.44px;width:167px;height:50.26px;background:rgb(40,71,51)"></div>
<div class="cell" style="left:1570.00px;top:883.44px;width:167px;height:50.26px;background:rgb(50,95,65)"></div>
<div class="hline" style="left:0;top:883.44px;width:1739px;background:#252525"></div>
<div class="t nm" style="left:16.00px;top:899.10px;">Sidebar Trigger Toggle</div>
<div class="t num" style="left:331.00px;top:901.64px;">64,484</div>
<div class="t rnum" style="left:449.30px;top:901.64px;">13,533</div>
<svg style="left:513.34px;top:904.98px" width="9" height="11" viewBox="0 0 9 11"><path d="M4.5 0.6 V9.6 M0.8 6 L4.5 9.7 L8.2 6" fill="none" stroke="rgba(255,255,255,0.6)" stroke-width="1.25" stroke-linecap="round" stroke-linejoin="round"/></svg>
<div class="t pct" style="left:523.44px;top:903.95px;">79%</div>
<div class="t num" style="left:615.00px;top:901.64px;">363</div>
<div class="t rnum" style="left:733.30px;top:901.64px;">10</div>
<svg style="left:762.20px;top:904.98px" width="9" height="11" viewBox="0 0 9 11"><path d="M4.5 0.6 V9.6 M0.8 6 L4.5 9.7 L8.2 6" fill="none" stroke="rgba(255,255,255,0.6)" stroke-width="1.25" stroke-linecap="round" stroke-linejoin="round"/></svg>
<div class="t pct" style="left:772.30px;top:903.95px;">97%</div>
<div class="t num" style="left:900.00px;top:901.64px;">$0.07</div>
<div class="t rnum" style="left:1018.30px;top:901.64px;">$0.01</div>
<svg style="left:1072.44px;top:904.98px" width="9" height="11" viewBox="0 0 9 11"><path d="M4.5 0.6 V9.6 M0.8 6 L4.5 9.7 L8.2 6" fill="none" stroke="rgba(255,255,255,0.6)" stroke-width="1.25" stroke-linecap="round" stroke-linejoin="round"/></svg>
<div class="t pct" style="left:1082.54px;top:903.95px;">83%</div>
<div class="t num" style="left:1185.00px;top:901.64px;">19.4s</div>
<div class="t rnum" style="left:1302.30px;top:901.64px;">7.4s</div>
<svg style="left:1345.64px;top:904.98px" width="9" height="11" viewBox="0 0 9 11"><path d="M4.5 0.6 V9.6 M0.8 6 L4.5 9.7 L8.2 6" fill="none" stroke="rgba(255,255,255,0.6)" stroke-width="1.25" stroke-linecap="round" stroke-linejoin="round"/></svg>
<div class="t pct" style="left:1355.74px;top:903.95px;">62%</div>
<div class="t num" style="left:1469.00px;top:901.64px;">6</div>
<div class="t rnum" style="left:1587.30px;top:901.64px;">0</div>
<svg style="left:1606.30px;top:904.98px" width="9" height="11" viewBox="0 0 9 11"><path d="M4.5 0.6 V9.6 M0.8 6 L4.5 9.7 L8.2 6" fill="none" stroke="rgba(255,255,255,0.6)" stroke-width="1.25" stroke-linecap="round" stroke-linejoin="round"/></svg>
<div class="t pct" style="left:1616.40px;top:903.95px;">100%</div>
<div class="cell" style="left:432.00px;top:933.70px;width:166px;height:50.26px;background:rgb(42,75,53)"></div>
<div class="cell" style="left:716.00px;top:933.70px;width:167px;height:50.26px;background:rgb(48,91,63)"></div>
<div class="cell" style="left:1001.00px;top:933.70px;width:167px;height:50.26px;background:rgb(39,68,48)"></div>
<div class="cell" style="left:1285.00px;top:933.70px;width:167px;height:50.26px;background:rgb(35,59,43)"></div>
<div class="cell" style="left:1570.00px;top:933.70px;width:167px;height:50.26px;background:rgb(50,95,65)"></div>
<div class="hline" style="left:0;top:933.70px;width:1739px;background:#252525"></div>
<div class="t nm" style="left:16.00px;top:949.36px;">Sign Up With Google Button</div>
<div class="t num" style="left:331.00px;top:951.90px;">41,447</div>
<div class="t rnum" style="left:449.30px;top:951.90px;">13,576</div>
<svg style="left:513.34px;top:955.24px" width="9" height="11" viewBox="0 0 9 11"><path d="M4.5 0.6 V9.6 M0.8 6 L4.5 9.7 L8.2 6" fill="none" stroke="rgba(255,255,255,0.6)" stroke-width="1.25" stroke-linecap="round" stroke-linejoin="round"/></svg>
<div class="t pct" style="left:523.44px;top:954.21px;">67%</div>
<div class="t num" style="left:615.00px;top:951.90px;">166</div>
<div class="t rnum" style="left:733.30px;top:951.90px;">10</div>
<svg style="left:762.20px;top:955.24px" width="9" height="11" viewBox="0 0 9 11"><path d="M4.5 0.6 V9.6 M0.8 6 L4.5 9.7 L8.2 6" fill="none" stroke="rgba(255,255,255,0.6)" stroke-width="1.25" stroke-linecap="round" stroke-linejoin="round"/></svg>
<div class="t pct" style="left:772.30px;top:954.21px;">94%</div>
<div class="t num" style="left:900.00px;top:951.90px;">$0.03</div>
<div class="t rnum" style="left:1018.30px;top:951.90px;">$0.01</div>
<svg style="left:1072.44px;top:955.24px" width="9" height="11" viewBox="0 0 9 11"><path d="M4.5 0.6 V9.6 M0.8 6 L4.5 9.7 L8.2 6" fill="none" stroke="rgba(255,255,255,0.6)" stroke-width="1.25" stroke-linecap="round" stroke-linejoin="round"/></svg>
<div class="t pct" style="left:1082.54px;top:954.21px;">56%</div>
<div class="t num" style="left:1185.00px;top:951.90px;">11.6s</div>
<div class="t rnum" style="left:1302.30px;top:951.90px;">6.7s</div>
<svg style="left:1345.64px;top:955.24px" width="9" height="11" viewBox="0 0 9 11"><path d="M4.5 0.6 V9.6 M0.8 6 L4.5 9.7 L8.2 6" fill="none" stroke="rgba(255,255,255,0.6)" stroke-width="1.25" stroke-linecap="round" stroke-linejoin="round"/></svg>
<div class="t pct" style="left:1355.74px;top:954.21px;">42%</div>
<div class="t num" style="left:1469.00px;top:951.90px;">2</div>
<div class="t rnum" style="left:1587.30px;top:951.90px;">0</div>
<svg style="left:1606.30px;top:955.24px" width="9" height="11" viewBox="0 0 9 11"><path d="M4.5 0.6 V9.6 M0.8 6 L4.5 9.7 L8.2 6" fill="none" stroke="rgba(255,255,255,0.6)" stroke-width="1.25" stroke-linecap="round" stroke-linejoin="round"/></svg>
<div class="t pct" style="left:1616.40px;top:954.21px;">100%</div>
<div class="cell" style="left:432.00px;top:983.96px;width:166px;height:50.26px;background:rgb(44,80,56)"></div>
<div class="cell" style="left:716.00px;top:983.96px;width:167px;height:50.26px;background:rgb(47,87,60)"></div>
<div class="cell" style="left:1001.00px;top:983.96px;width:167px;height:50.26px;background:rgb(37,63,45)"></div>
<div class="cell" style="left:1285.00px;top:983.96px;width:167px;height:50.26px;background:rgb(45,82,57)"></div>
<div class="cell" style="left:1570.00px;top:983.96px;width:167px;height:50.26px;background:rgb(47,88,61)"></div>
<div class="hline" style="left:0;top:983.96px;width:1739px;background:#252525"></div>
<div class="t nm" style="left:16.00px;top:999.62px;">Status Badge</div>
<div class="t num" style="left:331.00px;top:1002.16px;">154,625</div>
<div class="t rnum" style="left:449.30px;top:1002.16px;">37,212</div>
<svg style="left:513.34px;top:1005.50px" width="9" height="11" viewBox="0 0 9 11"><path d="M4.5 0.6 V9.6 M0.8 6 L4.5 9.7 L8.2 6" fill="none" stroke="rgba(255,255,255,0.6)" stroke-width="1.25" stroke-linecap="round" stroke-linejoin="round"/></svg>
<div class="t pct" style="left:523.44px;top:1004.47px;">76%</div>
<div class="t num" style="left:615.00px;top:1002.16px;">742</div>
<div class="t rnum" style="left:733.30px;top:1002.16px;">94</div>
<svg style="left:762.20px;top:1005.50px" width="9" height="11" viewBox="0 0 9 11"><path d="M4.5 0.6 V9.6 M0.8 6 L4.5 9.7 L8.2 6" fill="none" stroke="rgba(255,255,255,0.6)" stroke-width="1.25" stroke-linecap="round" stroke-linejoin="round"/></svg>
<div class="t pct" style="left:772.30px;top:1004.47px;">87%</div>
<div class="t num" style="left:900.00px;top:1002.16px;">$0.11</div>
<div class="t rnum" style="left:1018.30px;top:1002.16px;">$0.06</div>
<svg style="left:1072.44px;top:1005.50px" width="9" height="11" viewBox="0 0 9 11"><path d="M4.5 0.6 V9.6 M0.8 6 L4.5 9.7 L8.2 6" fill="none" stroke="rgba(255,255,255,0.6)" stroke-width="1.25" stroke-linecap="round" stroke-linejoin="round"/></svg>
<div class="t pct" style="left:1082.54px;top:1004.47px;">48%</div>
<div class="t num" style="left:1185.00px;top:1002.16px;">45.8s</div>
<div class="t rnum" style="left:1302.30px;top:1002.16px;">9.5s</div>
<svg style="left:1345.64px;top:1005.50px" width="9" height="11" viewBox="0 0 9 11"><path d="M4.5 0.6 V9.6 M0.8 6 L4.5 9.7 L8.2 6" fill="none" stroke="rgba(255,255,255,0.6)" stroke-width="1.25" stroke-linecap="round" stroke-linejoin="round"/></svg>
<div class="t pct" style="left:1355.74px;top:1004.47px;">79%</div>
<div class="t num" style="left:1469.00px;top:1002.16px;">9</div>
<div class="t rnum" style="left:1587.30px;top:1002.16px;">1</div>
<svg style="left:1606.30px;top:1005.50px" width="9" height="11" viewBox="0 0 9 11"><path d="M4.5 0.6 V9.6 M0.8 6 L4.5 9.7 L8.2 6" fill="none" stroke="rgba(255,255,255,0.6)" stroke-width="1.25" stroke-linecap="round" stroke-linejoin="round"/></svg>
<div class="t pct" style="left:1616.40px;top:1004.47px;">89%</div>
</div>
<div class="find"></div>
<svg style="left:1532px;top:31px" width="22" height="22" viewBox="0 0 22 22"><circle cx="9.6" cy="9.1" r="6.6" fill="none" stroke="#c3c5d0" stroke-width="1.8"/><path d="M14.4 13.9 L18.6 18" stroke="#c3c5d0" stroke-width="1.8" stroke-linecap="round"/></svg>
<div class="t" style="left:1563px;top:32.94px;font-size:18.5px;color:#f3f3f7;letter-spacing:0px;-webkit-text-stroke:0.35px #f3f3f7">shadcn</div>
<div class="t" style="left:1777px;top:35.89px;font-size:13.6px;font-weight:bold;color:#f3f3f7">2</div>
<div class="t" style="left:1793px;top:35.89px;font-size:13.6px;font-weight:bold;color:#f3f3f7">3</div>
<svg style="left:1784px;top:33px" width="10" height="19" viewBox="0 0 10 19"><path d="M7.3 2.2 L3.1 16.6" stroke="#f3f3f7" stroke-width="1.7" stroke-linecap="round"/></svg>
<svg style="left:1818px;top:32px" width="18" height="18" viewBox="0 0 18 18"><path d="M9 16.4 V2.7 M2.6 8.6 L9 2.5 L15.4 8.6" fill="none" stroke="#f3f3f7" stroke-width="2" stroke-linecap="round" stroke-linejoin="round"/></svg>
<svg style="left:1853px;top:32px" width="18" height="18" viewBox="0 0 18 18"><path d="M9.3 2.8 V16.3 M3.1 10.4 L9.3 16.5 L15.5 10.4" fill="none" stroke="#f3f3f7" stroke-width="2" stroke-linecap="round" stroke-linejoin="round"/></svg>
<svg style="left:1897px;top:33px" width="17" height="17" viewBox="0 0 17 17"><path d="M2.7 2.8 L14.1 14.2 M14.1 2.8 L2.7 14.2" fill="none" stroke="#f3f3f7" stroke-width="2" stroke-linecap="round"/></svg>
<svg style="left:1003px;top:540px" width="44" height="64" viewBox="0 0 44 64"><path d="M3.6 3.2 L3.6 51.6 L13.4 41.2 L22.6 57.8 L32.2 53.2 L23.6 37.4 L37.8 37.4 Z" fill="#000" stroke="#fff" stroke-width="3" stroke-linejoin="round"/></svg>
<div class="botstrip"></div>
</div></body></html>
